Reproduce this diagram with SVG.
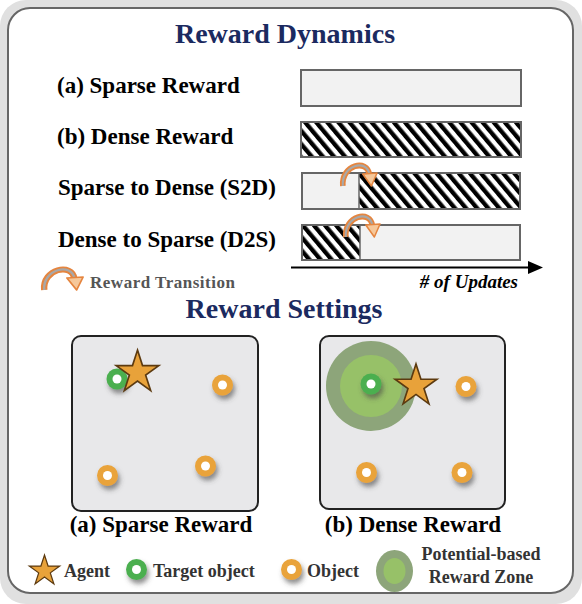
<svg xmlns="http://www.w3.org/2000/svg" xmlns:xlink="http://www.w3.org/1999/xlink" width="582" height="604" viewBox="0 0 582 604">
<style>
.title{font-family:"Liberation Serif","Times New Roman",serif;font-weight:bold;font-size:28px;fill:#1b2a60}
.lbl{font-family:"Liberation Serif","Times New Roman",serif;font-weight:bold;font-size:23px;fill:#000}
.leg{font-family:"Liberation Serif","Times New Roman",serif;font-weight:bold;font-size:18px;fill:#333}
.bar{stroke:#666;stroke-width:2}
.light{fill:#f2f2f2}
.box{fill:#e8e8ea;stroke:#222;stroke-width:2}
</style>
<defs>
<pattern id="hatch" width="8.5" height="8.5" patternUnits="userSpaceOnUse" patternTransform="rotate(-40)">
<rect width="8.5" height="8.5" fill="#fff"/>
<rect width="4.3" height="8.5" fill="#000"/>
</pattern>
<filter id="sh" x="-50%" y="-50%" width="200%" height="220%">
<feDropShadow dx="2" dy="4" stdDeviation="2.5" flood-color="#444" flood-opacity="0.6"/>
</filter>
<path id="star" d="M0,-20 L4.49,-6.18 L19.02,-6.18 L7.26,2.36 L11.76,16.18 L0,7.64 L-11.76,16.18 L-7.26,2.36 L-19.02,-6.18 L-4.49,-6.18 Z" fill="#e8a23a" stroke="#5c3a10" stroke-width="1.5"/>
<g id="tgt" filter="url(#sh)"><circle r="10.5" fill="#4caf50"/><circle r="4.5" fill="#fff"/></g>
<g id="obj" filter="url(#sh)"><circle r="10.5" fill="#e9a33a"/><circle r="4.5" fill="#fff"/></g>
<g id="trans">
<path d="M3,24 C1,3 29,-4 31,13" fill="none" stroke="#e5853f" stroke-width="6" stroke-linecap="butt"/>
<path d="M3,24 C1,3 29,-4 31,13" fill="none" stroke="#a8a8a8" stroke-width="2.2"/>
<polygon points="24,12 39,11 33,24" fill="#f6c89a" stroke="#e5853f" stroke-width="1.6" stroke-linejoin="round"/>
</g>
</defs>

<rect x="0" y="0" width="582" height="604" rx="26" fill="#e0e0e0"/>
<rect x="8" y="8" width="565" height="585" rx="22" fill="#fff" stroke="#666" stroke-width="2"/>

<text class="title" x="285" y="43" text-anchor="middle">Reward Dynamics</text>

<g id="row-sparse">
<text class="lbl" x="57" y="92.5">(a) Sparse Reward</text>
<rect class="bar light" x="301" y="70" width="220" height="36"/>
</g>
<g id="row-dense">
<text class="lbl" x="57" y="144">(b) Dense Reward</text>
<rect class="bar" x="301" y="122" width="220" height="35" fill="url(#hatch)"/>
</g>
<g id="row-s2d">
<text class="lbl" x="58" y="195">Sparse to Dense (S2D)</text>
<rect class="light" x="302" y="173" width="57" height="36"/>
<rect x="359" y="173" width="161" height="36" fill="url(#hatch)"/>
<line x1="359" y1="173" x2="359" y2="209" stroke="#666" stroke-width="1.5"/>
<rect x="302" y="173" width="218" height="36" fill="none" stroke="#666" stroke-width="2"/>
<use xlink:href="#trans" transform="translate(340,162) scale(0.95,1)"/>
</g>
<g id="row-d2s">
<text class="lbl" x="58" y="247">Dense to Sparse (D2S)</text>
<rect x="302" y="225" width="58" height="35" fill="url(#hatch)"/>
<rect class="light" x="360" y="225" width="160" height="35"/>
<line x1="360" y1="225" x2="360" y2="260" stroke="#666" stroke-width="1.5"/>
<rect x="302" y="225" width="218" height="35" fill="none" stroke="#666" stroke-width="2"/>
<use xlink:href="#trans" transform="translate(343,213) scale(0.95,1)"/>
</g>

<g id="legend-transition">
<use xlink:href="#trans" transform="translate(41,266) scale(1.08,1)"/>
<text x="90" y="288" font-family="'Liberation Serif','Times New Roman',serif" font-weight="bold" font-size="17" fill="#555" textLength="145">Reward Transition</text>
</g>

<g id="connectors">
<line x1="291" y1="267.5" x2="530" y2="267.5" stroke="#000" stroke-width="2"/>
<polygon points="528,261 543,267.5 528,274" fill="#000"/>
</g>
<text x="518" y="288" text-anchor="end" font-family="'Liberation Serif','Times New Roman',serif" font-weight="bold" font-style="italic" font-size="19" fill="#000"># of Updates</text>

<text class="title" x="284" y="318" text-anchor="middle">Reward Settings</text>

<g id="setting-sparse">
<rect class="box" x="72" y="336" width="186" height="175" rx="9"/>
<use xlink:href="#tgt" x="117" y="379"/>
<use xlink:href="#star" transform="translate(137.5,372.5) scale(1.12)"/>
<use xlink:href="#obj" x="222.5" y="385"/>
<use xlink:href="#obj" x="107.5" y="475.5"/>
<use xlink:href="#obj" x="205.5" y="466"/>
<text class="lbl" x="161" y="532" text-anchor="middle">(a) Sparse Reward</text>
</g>

<g id="setting-dense">
<rect class="box" x="320" y="336" width="185" height="173" rx="9"/>
<circle cx="371" cy="386" r="45" fill="#8da57a"/>
<circle cx="371" cy="386" r="31" fill="#97c168"/>
<use xlink:href="#tgt" x="371" y="384"/>
<use xlink:href="#star" transform="translate(416,386) scale(1.1)"/>
<use xlink:href="#obj" x="466" y="386.5"/>
<use xlink:href="#obj" x="366.5" y="472.5"/>
<use xlink:href="#obj" x="462" y="472.5"/>
<text class="lbl" x="413" y="532" text-anchor="middle">(b) Dense Reward</text>
</g>

<g id="legend">
<use xlink:href="#star" transform="translate(44.5,571) scale(0.8)"/>
<text class="leg" x="64" y="577">Agent</text>
<use xlink:href="#tgt" x="136.5" y="569.5"/>
<text class="leg" x="153" y="577">Target object</text>
<use xlink:href="#obj" x="291.5" y="569.5"/>
<text class="leg" x="307" y="577">Object</text>
<ellipse cx="394.5" cy="571" rx="18.5" ry="21" fill="#8da57a"/>
<ellipse cx="394.5" cy="571" rx="11" ry="13" fill="#97c168"/>
<text class="leg" x="481" y="560" text-anchor="middle">Potential-based</text>
<text class="leg" x="481" y="583" text-anchor="middle">Reward Zone</text>
</g>
</svg>
